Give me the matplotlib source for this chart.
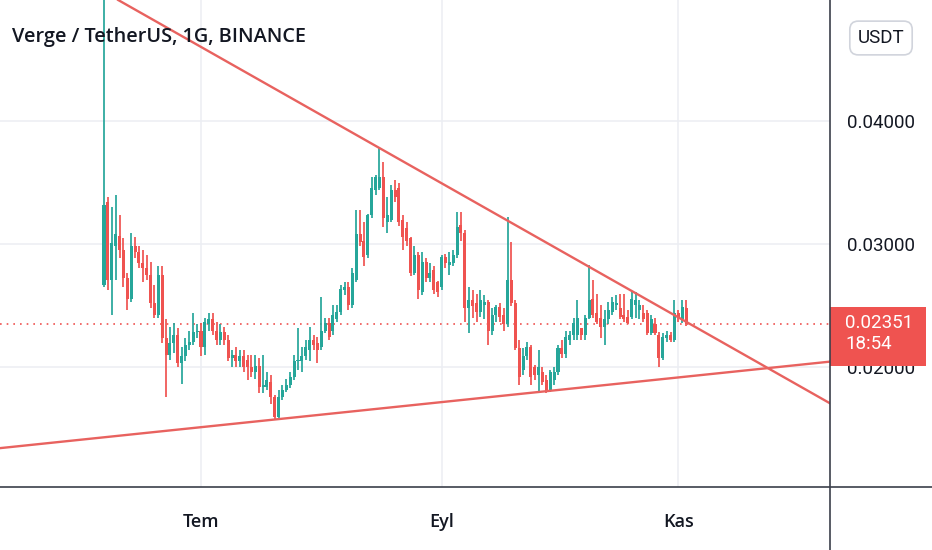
import matplotlib
matplotlib.use("Agg")
import matplotlib.pyplot as plt
import matplotlib.transforms as mtransforms
from matplotlib.patches import Rectangle
from matplotlib.lines import Line2D
import numpy as np
import pandas as pd

# ---------------- data (daily candles, XVG/USDT) ----------------
start_date = "2021-06-06"
opens = [0.0267, 0.0334, 0.0271, 0.0299, 0.0307, 0.0295, 0.0273, 0.0256, 0.0299, 0.0294,
         0.0285, 0.0281, 0.0275, 0.0252, 0.0243, 0.0275, 0.0224, 0.0210, 0.0220, 0.0226,
         0.0204, 0.0209, 0.0218, 0.0221, 0.0229, 0.0230, 0.0217, 0.0235, 0.0239, 0.0230,
         0.0222, 0.0229, 0.0222, 0.0208, 0.0210, 0.0205, 0.0209, 0.0206, 0.0200, 0.0196,
         0.0201, 0.0184, 0.0184, 0.0188, 0.0176, 0.0160, 0.0176, 0.0182, 0.0186, 0.0192,
         0.0205, 0.0205, 0.0209, 0.0214, 0.0222, 0.0220, 0.0217, 0.0230, 0.0236, 0.0230,
         0.0239, 0.0245, 0.0263, 0.0265, 0.0251, 0.0271, 0.0308, 0.0303, 0.0291, 0.0324,
         0.0344, 0.0346, 0.0355, 0.0318, 0.0320, 0.0344, 0.0346, 0.0320, 0.0313, 0.0305,
         0.0277, 0.0291, 0.0261, 0.0286, 0.0273, 0.0279, 0.0269, 0.0265, 0.0290, 0.0283,
         0.0285, 0.0291, 0.0316, 0.0309, 0.0248, 0.0255, 0.0252, 0.0245, 0.0251, 0.0253,
         0.0230, 0.0243, 0.0249, 0.0243, 0.0235, 0.0271, 0.0252, 0.0216, 0.0198, 0.0209,
         0.0217, 0.0200, 0.0194, 0.0196, 0.0190, 0.0182, 0.0190, 0.0196, 0.0216, 0.0211,
         0.0222, 0.0226, 0.0226, 0.0232, 0.0226, 0.0240, 0.0256, 0.0244, 0.0240, 0.0233,
         0.0239, 0.0245, 0.0251, 0.0248, 0.0243, 0.0241, 0.0241, 0.0251, 0.0247, 0.0244,
         0.0244, 0.0228, 0.0235, 0.0226, 0.0208, 0.0224, 0.0226, 0.0222, 0.0244, 0.0239,
         0.0248]
highs = [0.0520, 0.0338, 0.0330, 0.0340, 0.0324, 0.0305, 0.0277, 0.0309, 0.0306, 0.0299,
         0.0295, 0.0291, 0.0286, 0.0267, 0.0282, 0.0282, 0.0239, 0.0233, 0.0236, 0.0232,
         0.0217, 0.0224, 0.0230, 0.0244, 0.0235, 0.0236, 0.0240, 0.0244, 0.0244, 0.0237,
         0.0235, 0.0233, 0.0226, 0.0214, 0.0217, 0.0214, 0.0214, 0.0210, 0.0210, 0.0210,
         0.0208, 0.0210, 0.0196, 0.0194, 0.0178, 0.0182, 0.0186, 0.0191, 0.0196, 0.0210,
         0.0232, 0.0217, 0.0222, 0.0233, 0.0226, 0.0225, 0.0257, 0.0240, 0.0240, 0.0251,
         0.0251, 0.0267, 0.0269, 0.0269, 0.0281, 0.0328, 0.0328, 0.0318, 0.0325, 0.0355,
         0.0356, 0.0379, 0.0367, 0.0338, 0.0348, 0.0352, 0.0350, 0.0324, 0.0318, 0.0306,
         0.0299, 0.0294, 0.0294, 0.0289, 0.0285, 0.0282, 0.0270, 0.0291, 0.0292, 0.0294,
         0.0295, 0.0326, 0.0326, 0.0312, 0.0265, 0.0263, 0.0260, 0.0263, 0.0259, 0.0255,
         0.0248, 0.0251, 0.0252, 0.0248, 0.0322, 0.0302, 0.0255, 0.0222, 0.0216, 0.0221,
         0.0218, 0.0202, 0.0214, 0.0200, 0.0194, 0.0198, 0.0200, 0.0218, 0.0222, 0.0230,
         0.0230, 0.0240, 0.0255, 0.0232, 0.0243, 0.0283, 0.0271, 0.0260, 0.0251, 0.0247,
         0.0253, 0.0257, 0.0259, 0.0260, 0.0260, 0.0247, 0.0261, 0.0261, 0.0255, 0.0251,
         0.0247, 0.0243, 0.0240, 0.0229, 0.0228, 0.0230, 0.0229, 0.0255, 0.0247, 0.0255,
         0.0255]
lows = [0.0265, 0.0263, 0.0243, 0.0271, 0.0289, 0.0265, 0.0247, 0.0253, 0.0289, 0.0281,
        0.0269, 0.0271, 0.0248, 0.0240, 0.0240, 0.0220, 0.0176, 0.0206, 0.0212, 0.0200,
        0.0187, 0.0205, 0.0214, 0.0218, 0.0224, 0.0209, 0.0210, 0.0230, 0.0226, 0.0218,
        0.0218, 0.0218, 0.0205, 0.0200, 0.0200, 0.0200, 0.0196, 0.0190, 0.0192, 0.0191,
        0.0179, 0.0179, 0.0182, 0.0170, 0.0157, 0.0157, 0.0174, 0.0180, 0.0183, 0.0190,
        0.0198, 0.0196, 0.0206, 0.0205, 0.0214, 0.0204, 0.0214, 0.0228, 0.0222, 0.0226,
        0.0237, 0.0243, 0.0259, 0.0247, 0.0248, 0.0269, 0.0299, 0.0282, 0.0289, 0.0321,
        0.0340, 0.0344, 0.0314, 0.0309, 0.0318, 0.0334, 0.0315, 0.0295, 0.0299, 0.0274,
        0.0275, 0.0256, 0.0259, 0.0269, 0.0269, 0.0260, 0.0257, 0.0263, 0.0281, 0.0275,
        0.0282, 0.0289, 0.0303, 0.0237, 0.0228, 0.0240, 0.0237, 0.0241, 0.0239, 0.0218,
        0.0226, 0.0237, 0.0237, 0.0230, 0.0233, 0.0250, 0.0214, 0.0186, 0.0194, 0.0206,
        0.0186, 0.0190, 0.0180, 0.0186, 0.0179, 0.0180, 0.0186, 0.0194, 0.0208, 0.0208,
        0.0218, 0.0222, 0.0222, 0.0222, 0.0222, 0.0239, 0.0240, 0.0235, 0.0224, 0.0218,
        0.0235, 0.0243, 0.0247, 0.0239, 0.0237, 0.0235, 0.0239, 0.0240, 0.0239, 0.0237,
        0.0226, 0.0226, 0.0226, 0.0200, 0.0206, 0.0221, 0.0221, 0.0221, 0.0237, 0.0236,
        0.0234]
closes = [0.0332, 0.0271, 0.0301, 0.0308, 0.0295, 0.0273, 0.0256, 0.0299, 0.0294, 0.0285,
          0.0281, 0.0275, 0.0252, 0.0243, 0.0275, 0.0224, 0.0210, 0.0220, 0.0226, 0.0204,
          0.0209, 0.0218, 0.0221, 0.0229, 0.0230, 0.0217, 0.0237, 0.0239, 0.0230, 0.0222,
          0.0229, 0.0222, 0.0208, 0.0210, 0.0205, 0.0209, 0.0200, 0.0200, 0.0196, 0.0201,
          0.0184, 0.0186, 0.0190, 0.0176, 0.0160, 0.0176, 0.0182, 0.0186, 0.0192, 0.0205,
          0.0206, 0.0209, 0.0217, 0.0222, 0.0218, 0.0214, 0.0230, 0.0236, 0.0225, 0.0243,
          0.0245, 0.0264, 0.0265, 0.0251, 0.0277, 0.0308, 0.0302, 0.0290, 0.0324, 0.0346,
          0.0355, 0.0355, 0.0321, 0.0324, 0.0344, 0.0338, 0.0318, 0.0306, 0.0303, 0.0277,
          0.0291, 0.0263, 0.0286, 0.0273, 0.0277, 0.0263, 0.0261, 0.0290, 0.0285, 0.0286,
          0.0291, 0.0314, 0.0309, 0.0248, 0.0255, 0.0250, 0.0245, 0.0255, 0.0253, 0.0230,
          0.0243, 0.0249, 0.0241, 0.0235, 0.0271, 0.0252, 0.0216, 0.0192, 0.0209, 0.0217,
          0.0192, 0.0194, 0.0200, 0.0188, 0.0180, 0.0196, 0.0196, 0.0216, 0.0211, 0.0225,
          0.0226, 0.0236, 0.0240, 0.0226, 0.0240, 0.0255, 0.0243, 0.0237, 0.0233, 0.0239,
          0.0247, 0.0253, 0.0252, 0.0241, 0.0239, 0.0236, 0.0256, 0.0255, 0.0251, 0.0239,
          0.0228, 0.0239, 0.0228, 0.0208, 0.0225, 0.0226, 0.0222, 0.0244, 0.0240, 0.0249,
          0.02351]

# hand-drawn trend lines: two anchor points each (day index, price)
upper_line_days = [94.6, 154.0]
upper_line_prices = [0.0336, 0.0230]
lower_line_days = [94.6, 154.0]
lower_line_prices = [0.01744, 0.01939]

price_ticks = [0.02, 0.03, 0.04]
month_labels = ["Tem", "Eyl", "Kas"]          # Temmuz, Eylül, Kasım
month_starts = ["2021-07-01", "2021-09-01", "2021-11-01"]
title = "Verge / TetherUS, 1G, BINANCE"
currency = "USDT"
countdown = "18:54"

# ---------------- style ----------------
TEAL = "#26a69a"
RED = "#ef5350"
LINE_RED = "#e8625f"
GRID = "#eceef3"
TEXT = "#131722"
SEP = "#3b3f4a"

W, H = 932, 550
fig = plt.figure(figsize=(W / 100, H / 100), dpi=100)
fig.patch.set_facecolor("white")
ax = fig.add_axes([0, 63 / H, 830 / W, 487 / H])
ax.set_facecolor("white")

o = np.array(opens)
h = np.array(highs)
l = np.array(lows)
c = np.array(closes)
dates = pd.date_range(start_date, periods=len(c), freq="D")
idx = np.arange(len(c))
cols = np.where(c >= o, TEAL, RED)

ax.set_xlim(-26.8, 187.1)
ax.set_ylim(0.01030, 0.04983)

# candles
ax.vlines(idx, l, h, colors=cols, lw=1.25, zorder=3)
ax.bar(idx, np.maximum(np.abs(c - o), 0.00006), bottom=np.minimum(o, c),
       width=0.78, color=cols, linewidth=0, zorder=4)

# trend lines
ax.axline((upper_line_days[0], upper_line_prices[0]),
          (upper_line_days[1], upper_line_prices[1]), color=LINE_RED, lw=1.7, zorder=5)
ax.axline((lower_line_days[0], lower_line_prices[0]),
          (lower_line_days[1], lower_line_prices[1]), color=LINE_RED, lw=1.7, zorder=5)

# last price dotted line
ax.axhline(c[-1], color=RED, lw=1.2, ls=(0, (1, 3)), zorder=2)

# grid & ticks
ax.set_yticks(price_ticks)
ax.yaxis.set_major_formatter(matplotlib.ticker.FormatStrFormatter("%.5f"))
ax.yaxis.tick_right()
month_pos = [int(np.where(dates == pd.Timestamp(m))[0][0]) for m in month_starts]
ax.set_xticks(month_pos)
ax.set_xticklabels(month_labels)
ax.grid(True, color=GRID, lw=1.1, zorder=0)
ax.tick_params(axis="y", length=0, pad=12, labelsize=13.5, labelcolor=TEXT)
ax.tick_params(axis="x", length=0, pad=19, labelsize=13, labelcolor=TEXT)
for lab in ax.get_yticklabels():
    lab.set_fontfamily("Roboto")
for lab in ax.get_xticklabels():
    lab.set_fontfamily("Open Sans")
    lab.set_fontweight("semibold")
for s in ax.spines.values():
    s.set_visible(False)

# separators (price scale / time scale)
pos = ax.get_position()
fig.add_artist(Line2D([pos.x1, pos.x1], [0, 1], transform=fig.transFigure, color=SEP, lw=1.2))
fig.add_artist(Line2D([0, 1], [pos.y0, pos.y0], transform=fig.transFigure, color=SEP, lw=1.2))

# last price label box
tr = fig.dpi_scale_trans + mtransforms.ScaledTranslation(1.0, c[-1], ax.get_yaxis_transform())
ax.add_artist(Rectangle((0.0, -0.415), 0.96, 0.585, transform=tr, facecolor=RED,
                        edgecolor="none", clip_on=False, zorder=10))
ax.text(0.15, 0.015, f"{c[-1]:.5f}", transform=tr, ha="left", va="center", color="white",
        fontsize=13.5, family="Roboto", zorder=11, clip_on=False)
ax.text(0.15, -0.195, countdown, transform=tr, ha="left", va="center", color="white",
        fontsize=13.5, family="Roboto", zorder=11, clip_on=False)

# title and currency badge
fig.text(12 / W, 1 - 37 / H, title, ha="left", va="center", fontsize=14.3,
         family="Open Sans", fontweight="semibold", color=TEXT)
fig.text(881 / W, 1 - 38 / H, currency, ha="center", va="center", fontsize=13.5,
         family="Roboto", color=TEXT,
         bbox=dict(boxstyle="round,pad=0.42,rounding_size=0.45", fc="white",
                   ec="#d1d4dc", lw=1.2))

fig.savefig("out.png", dpi=100, facecolor="white")
